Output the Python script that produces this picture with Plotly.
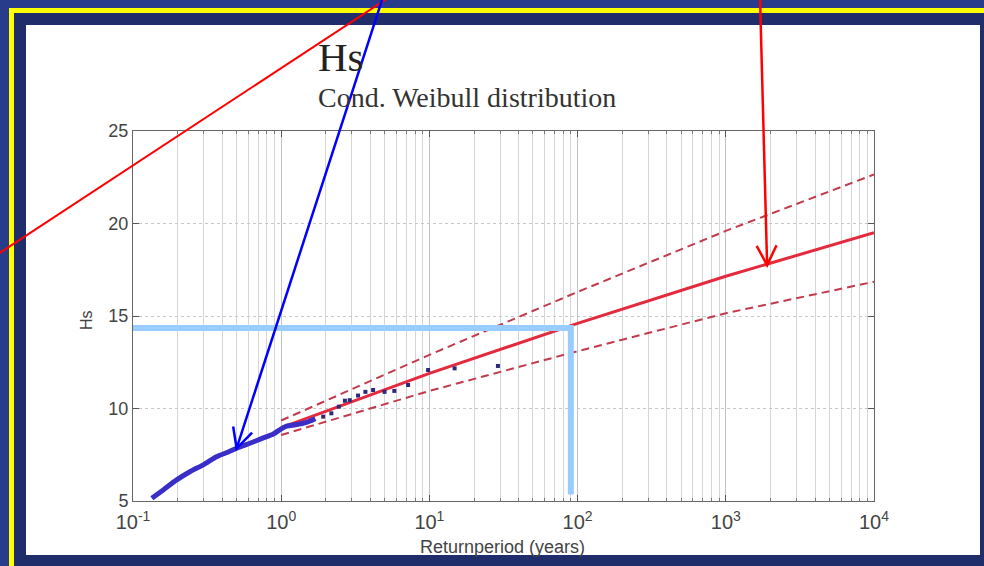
import math
import plotly.graph_objects as go

# ---------------- data ----------------
# empirical return periods / Hs (dense part drawn as thick curve)
T_emp_dense = [0.134, 0.16, 0.197, 0.242, 0.30, 0.366, 0.44, 0.50, 0.615, 0.75, 0.886, 1.0, 1.09, 1.25, 1.48, 1.7]
Hs_emp_dense = [5.15, 5.6, 6.14, 6.58, 6.97, 7.39, 7.65, 7.85, 8.12, 8.4, 8.62, 8.9, 9.05, 9.12, 9.25, 9.45]
# sparse empirical points (largest storms)
T_emp_sparse = [1.92, 2.18, 2.45, 2.69, 2.9, 3.3, 3.7, 4.17, 4.98, 5.8, 7.18, 9.8, 14.8, 29]
Hs_emp_sparse = [9.56, 9.74, 10.1, 10.42, 10.45, 10.7, 10.9, 11.0, 10.9, 10.95, 11.27, 12.08, 12.17, 12.3]

# fitted conditional Weibull + confidence band
T_fit = [1, 10, 100, 1000, 10000]
Hs_fit = [8.97, 11.9, 14.6, 17.15, 19.5]
Hs_upper = [9.35, 12.9, 16.3, 19.6, 22.65]
Hs_lower = [8.57, 10.95, 13.1, 15.15, 16.85]

# highlighted design value (slide overlay)
T_design = 90
Hs_design = 14.35
Hs_design_bottom = 5.35

# arrow targets (slide overlay), data coordinates
blue_arrow_target = (0.5, 7.85)
red_arrow_target = (1900, 17.75)

# ticks
x_tickvals = [0.1, 1, 10, 100, 1000, 10000]
x_ticktext = ["10<sup>-1</sup>", "10<sup>0</sup>", "10<sup>1</sup>", "10<sup>2</sup>", "10<sup>3</sup>", "10<sup>4</sup>"]
x_minor_vals = [m * 10 ** e for e in range(-1, 4) for m in range(2, 10)]
y_tickvals = [5, 10, 15, 20, 25]

# ---------------- geometry ----------------
W, H = 984, 566
PL, PR, PT, PB = 133, 874, 131, 501  # plot box in pixels
XR = (-1, 4)
YR = (5, 25)


def paper(px, py):
    return ((px - PL) / (PR - PL), (PB - py) / (PB - PT))


def d2px(t, hs):
    px = PL + (math.log10(t) - XR[0]) / (XR[1] - XR[0]) * (PR - PL)
    py = PB - (hs - YR[0]) / (YR[1] - YR[0]) * (PB - PT)
    return px, py


def rect(x0, y0, x1, y1, color, layer="below"):
    a = paper(x0, y0)
    b = paper(x1, y1)
    return dict(type="rect", xref="paper", yref="paper", x0=a[0], y0=b[1], x1=b[0], y1=a[1],
                fillcolor=color, line=dict(width=0), layer=layer)


def seg_path(points):
    s = ""
    for i, (px, py) in enumerate(points):
        x, y = paper(px, py)
        s += ("M" if i == 0 else " L") + f" {x:.5f} {y:.5f}"
    return s


def arrow_shapes(start_px, target, color, width):
    tx, ty = d2px(*target)
    sx, sy = start_px
    ang = math.atan2(sy - ty, sx - tx)
    L = 22
    arms = []
    for d in (-0.47, 0.47):
        arms.append((tx + L * math.cos(ang + d), ty + L * math.sin(ang + d)))
    shapes = [
        dict(type="path", xref="paper", yref="paper", path=seg_path([(sx, sy), (tx, ty)]),
             line=dict(color=color, width=width), layer="above"),
        dict(type="path", xref="paper", yref="paper", path=seg_path([arms[0], (tx, ty), arms[1]]),
             line=dict(color=color, width=width), layer="above"),
    ]
    return shapes


fig = go.Figure()

red_dash = "#c23a4c"
fig.add_trace(go.Scatter(x=T_fit, y=Hs_upper, mode="lines",
                         line=dict(color=red_dash, width=2, dash="8px,5px"), showlegend=False))
fig.add_trace(go.Scatter(x=T_fit, y=Hs_lower, mode="lines",
                         line=dict(color=red_dash, width=2, dash="8px,5px"), showlegend=False))
fig.add_trace(go.Scatter(x=T_fit, y=Hs_fit, mode="lines",
                         line=dict(color="#e32a3e", width=3), showlegend=False))
fig.add_trace(go.Scatter(x=T_emp_dense, y=Hs_emp_dense, mode="lines",
                         line=dict(color="#3a2ec8", width=5, shape="spline", smoothing=0.6),
                         showlegend=False))
fig.add_trace(go.Scatter(x=T_emp_sparse, y=Hs_emp_sparse, mode="markers",
                         marker=dict(color="#2c2a78", size=4, symbol="square"), showlegend=False))
fig.add_trace(go.Scatter(x=[10 ** XR[0], T_design, T_design],
                         y=[Hs_design, Hs_design, Hs_design_bottom], mode="lines",
                         line=dict(color="#99ccff", width=6), showlegend=False))

shapes = [
    rect(14, 13, 995, 580, "#1f2d6b"),
    rect(26, 25, 980, 555, "#ffffff"),
    rect(9, 8, 995, 13, "#ffff00"),
    rect(9, 8, 14, 580, "#ffff00"),
    dict(type="path", xref="paper", yref="paper", path=seg_path([(-5, 256), (388, -2)]),
         line=dict(color="#ff0000", width=2), layer="above"),
]
shapes += arrow_shapes((383, -3), blue_arrow_target, "#0000ff", 2.5)
shapes += arrow_shapes((760, -3), red_arrow_target, "#ff0000", 2.5)

tick_font = dict(family="Liberation Sans, Arial, sans-serif", size=18, color="#444444")

fig.update_layout(
    width=W, height=H, autosize=False,
    margin=dict(l=PL, r=W - PR, t=PT, b=H - PB, pad=0),
    paper_bgcolor="#283c8c",
    plot_bgcolor="#ffffff",
    shapes=shapes,
    hovermode=False,
    xaxis=dict(
        type="log", range=list(XR),
        tickmode="array", tickvals=x_tickvals, ticktext=x_ticktext,
        tickfont=dict(family="Liberation Sans, Arial, sans-serif", size=20, color="#444444"),
        ticks="inside", ticklen=6, tickcolor="#555555", ticklabelstandoff=3,
        showline=True, linecolor="#666666", linewidth=1, mirror="allticks",
        showgrid=True, gridcolor="#c2c2c2", gridwidth=1,
        minor=dict(tickmode="array", tickvals=x_minor_vals, ticks="inside", ticklen=3,
                   tickcolor="#777777", showgrid=True, gridcolor="#d6d6d6", gridwidth=1),
        zeroline=False,
    ),
    yaxis=dict(
        range=list(YR), tickmode="array", tickvals=y_tickvals,
        tickfont=tick_font,
        ticks="inside", ticklen=6, tickcolor="#555555",
        showline=True, linecolor="#666666", linewidth=1, mirror="allticks",
        showgrid=True, gridcolor="#c8c8c8", griddash="dot", gridwidth=1,
        zeroline=False,
    ),
    annotations=[
        dict(text="Hs", xref="paper", yref="paper", x=paper(316, 0)[0], y=paper(0, 57)[1],
             xanchor="left", yanchor="middle", showarrow=False,
             font=dict(family="Liberation Serif, Times New Roman, serif", size=41, color="#222222")),
        dict(text="Cond. Weibull distribution", xref="paper", yref="paper",
             x=paper(316, 0)[0], y=paper(0, 97)[1], xanchor="left", yanchor="middle", showarrow=False,
             font=dict(family="Liberation Serif, Times New Roman, serif", size=28, color="#333333")),
        dict(text="Hs", xref="paper", yref="paper", x=paper(86, 0)[0], y=paper(0, 320)[1],
             xanchor="center", yanchor="middle", textangle=-90, showarrow=False,
             font=dict(family="Liberation Sans, Arial, sans-serif", size=16, color="#444444")),
        dict(text="Returnperiod (years)", xref="paper", yref="paper", x=paper(502, 0)[0],
             y=paper(0, 547)[1], xanchor="center", yanchor="middle", showarrow=False,
             font=dict(family="Liberation Sans, Arial, sans-serif", size=18, color="#444444")),
    ],
)

fig.write_html(
    "out.html",
    config={"displayModeBar": False},
    post_script="document.body.style.margin='0';document.body.style.padding='0';"
                "document.body.style.overflow='hidden';document.body.style.background='#283c8c';",
)
